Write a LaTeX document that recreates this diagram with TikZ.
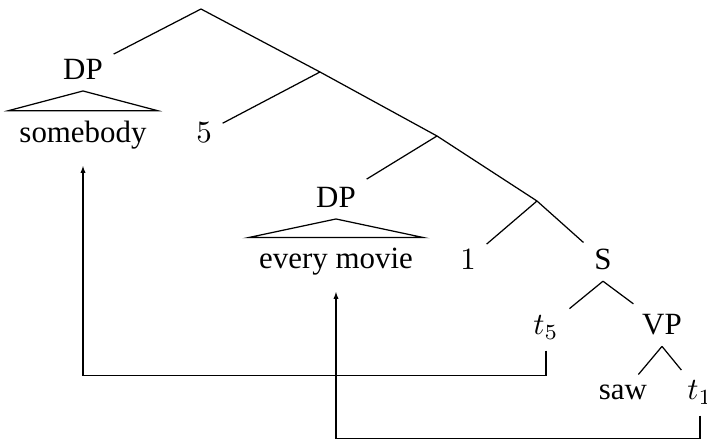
\documentclass[tikz,border=0pt]{standalone}
\usepackage{fontspec}
\setmainfont{Liberation Serif}
\usetikzlibrary{arrows.meta}

\begin{document}
\begin{tikzpicture}[
  x=0.3236pt, y=-0.3236pt,
  >={Latex[length=2.4pt,width=1.7pt]},
  lbl/.style={anchor=base},
  move/.style={->, shorten >=1.6pt},
]
\useasboundingbox (0,0) rectangle (707,441);

% ---------- branching points (empty nodes) ----------
\coordinate (top) at (201,9);
\coordinate (lamA) at (320,72);
\coordinate (qrB) at (437,136);
\coordinate (lamB) at (537,201);

% ---------- labels ----------
\node[lbl] (dpA) at (83,80) {DP};
\node[lbl] (somebody) at (83,143) {somebody};
\node[lbl] (five) at (204,143) {$5$};
\node[lbl] (dpB) at (336,208) {DP};
\node[lbl] (movie) at (336,269) {every movie};
\node[lbl] (one) at (468,270) {$1$};
\node[lbl] (S) at (603,270) {S};
\node[lbl] (tfive) at (546,335) {$t_5$};
\node[lbl] (VP) at (662,335) {VP};
\node[lbl] (saw) at (623,400) {saw};
\node[lbl] (tone) at (700,400) {$t_1$};

% ---------- branches ----------
\draw (top) -- (dpA);
\draw (top) -- (lamA);
\draw (lamA) -- (five);
\draw (lamA) -- (qrB);
\draw (qrB) -- (dpB);
\draw (qrB) -- (lamB);
\draw (lamB) -- (one);
\draw (lamB) -- (S);
\draw (S.south) -- (tfive);
\draw (S.south) -- (VP);
\draw (VP.south) -- (saw);
\draw (VP.south) -- (tone);

% roofs
\draw (dpA.south) -- (somebody.north west) -- (somebody.north east) -- cycle;
\draw (dpB.south) -- (movie.north west) -- (movie.north east) -- cycle;

% ---------- movement arrows ----------
\draw[move] (tfive.south) -- ++(0,25) -| (somebody.south);
\draw[move] (tone.south) -- ++(0,23) -| (movie.south);

\end{tikzpicture}
\end{document}
